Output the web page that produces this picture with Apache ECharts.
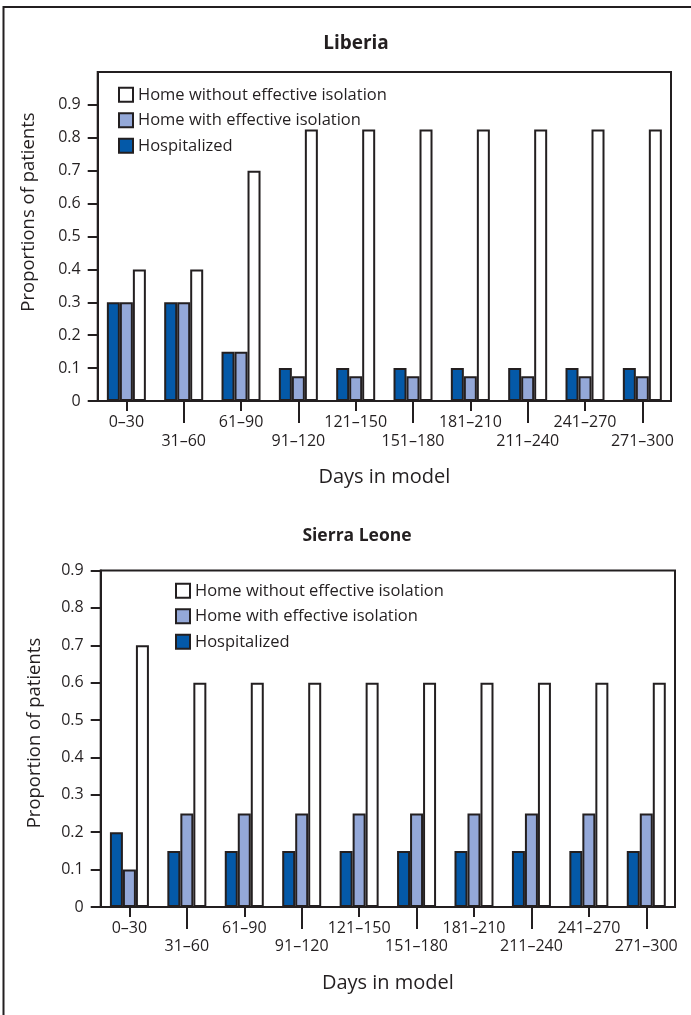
<!DOCTYPE html>
<html>
<head>
<meta charset="utf-8">
<script src="https://cdn.jsdelivr.net/npm/echarts@6/dist/echarts.min.js"></script>
<style>html,body{margin:0;padding:0;background:#fff;}#c{width:691px;height:1015px;}</style>
</head>
<body>
<div id="c"></div>
<script>
const categories = ['0–30','31–60','61–90','91–120','121–150','151–180','181–210','211–240','241–270','271–300'];
const nameHospital = 'Hospitalized';
const nameWith = 'Home with effective isolation';
const nameWithout = 'Home without effective isolation';
const liberiaHospitalized = [0.3,0.3,0.15,0.1,0.1,0.1,0.1,0.1,0.1,0.1];
const liberiaHomeWith = [0.3,0.3,0.15,0.075,0.075,0.075,0.075,0.075,0.075,0.075];
const liberiaHomeWithout = [0.4,0.4,0.7,0.825,0.825,0.825,0.825,0.825,0.825,0.825];
const sierraHospitalized = [0.2,0.15,0.15,0.15,0.15,0.15,0.15,0.15,0.15,0.15];
const sierraHomeWith = [0.1,0.25,0.25,0.25,0.25,0.25,0.25,0.25,0.25,0.25];
const sierraHomeWithout = [0.7,0.6,0.6,0.6,0.6,0.6,0.6,0.6,0.6,0.6];
const yTicks = [0,0.1,0.2,0.3,0.4,0.5,0.6,0.7,0.8,0.9];

const INK = '#231f20';
const DARK = '#0459a8';
const LIGHT = '#94a8d8';
const FONT = 'Open Sans';

function fmt(v){ return v === 0 ? '0' : (Math.round(v*10)/10).toFixed(1); }

function yAxis(grid, max){
  return {
    type:'value', gridIndex:grid, min:0, max:max, interval:0.1,
    axisLine:{show:true, lineStyle:{color:INK, width:2}},
    axisTick:{show:true, length:10, lineStyle:{color:INK, width:2}, customValues:yTicks},
    axisLabel:{color:INK, fontFamily:FONT, fontSize:16, margin:17, formatter:fmt, customValues:yTicks},
    splitLine:{show:false}
  };
}
function xAxis(grid, parity, margin, tickLen, name, nameGap){
  return {
    type:'category', gridIndex:grid, data:categories, position:'bottom',
    axisLine:{show: parity===0, lineStyle:{color:INK, width:2}},
    axisTick:{show:true, alignWithLabel:true, length:tickLen, lineStyle:{color:INK, width:2},
      interval:function(i){ return i % 2 === parity; }},
    axisLabel:{color:INK, fontFamily:FONT, fontSize:16, margin:margin,
      interval:function(i){ return i % 2 === parity; }},
    name: name, nameLocation:'middle', nameGap:nameGap,
    nameTextStyle:{color:INK, fontFamily:FONT, fontSize:20}
  };
}
function bar(name, data, color, xi, yi){
  return {
    type:'bar', name:name, data:data, xAxisIndex:xi, yAxisIndex:yi,
    barWidth:13, barGap:'0%',
    itemStyle:{color:color, borderColor:INK, borderWidth:2}
  };
}
function legend(left, top){
  return {
    orient:'vertical', left:left, top:top, itemWidth:14, itemHeight:14, itemGap:8.5,
    icon:'rect',
    data:[nameWithout, nameWith, nameHospital],
    itemStyle:{borderColor:INK, borderWidth:2},
    textStyle:{color:INK, fontFamily:FONT, fontSize:16.5}
  };
}

const chart = echarts.init(document.getElementById('c'), null, {renderer:'canvas'});
chart.setOption({
  animation:false,
  backgroundColor:'#fff',
  grid:[
    {left:97.7, top:72, width:573.3, height:329, show:true, borderColor:INK, borderWidth:2},
    {left:100.7, top:570.5, width:574.3, height:336.5, show:true, borderColor:INK, borderWidth:2}
  ],
  legend:[legend(113, 81.3), legend(170, 577.3)],
  xAxis:[
    xAxis(0,0,13,10,'Days in model',66),
    xAxis(0,1,32,22,'',0),
    xAxis(1,0,13,10,'Days in model',66),
    xAxis(1,1,31,22,'',0)
  ],
  yAxis:[yAxis(0,1), yAxis(1,0.9)],
  series:[
    bar(nameHospital, liberiaHospitalized, DARK, 0, 0),
    bar(nameWith, liberiaHomeWith, LIGHT, 0, 0),
    bar(nameWithout, liberiaHomeWithout, '#ffffff', 0, 0),
    bar(nameHospital, sierraHospitalized, DARK, 2, 1),
    bar(nameWith, sierraHomeWith, LIGHT, 2, 1),
    bar(nameWithout, sierraHomeWithout, '#ffffff', 2, 1)
  ],
  graphic:[
    {type:'polyline', shape:{points:[[3.5,1020],[3.5,7],[700,7]]}, style:{stroke:INK, lineWidth:2, fill:null}},
    {type:'text', x:356, y:44, style:{text:'Liberia', fontFamily:FONT, fontWeight:'bold', fontSize:19, fill:INK, align:'center', verticalAlign:'middle'}},
    {type:'text', x:357, y:536, style:{text:'Sierra Leone', fontFamily:FONT, fontWeight:'bold', fontSize:17.5, fill:INK, align:'center', verticalAlign:'middle'}},
    {type:'text', x:29, y:212, rotation:Math.PI/2, style:{text:'Proportions of patients', fontFamily:FONT, fontSize:18.5, fill:INK, align:'center', verticalAlign:'middle'}},
    {type:'text', x:35, y:733, rotation:Math.PI/2, style:{text:'Proportion of patients', fontFamily:FONT, fontSize:18.5, fill:INK, align:'center', verticalAlign:'middle'}}
  ]
});
</script>
</body>
</html>
